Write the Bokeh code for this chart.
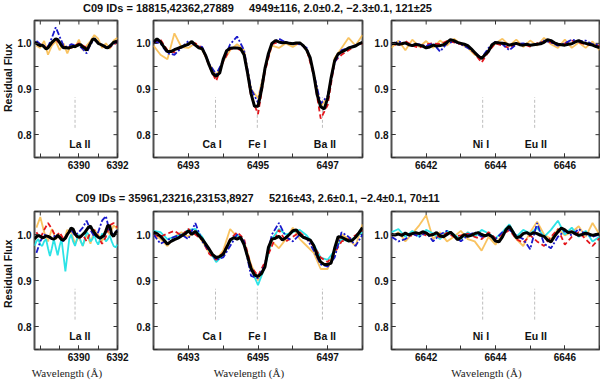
import numpy as np
from bokeh.plotting import figure
from bokeh.models import (Range1d, FixedTicker, PrintfTickFormatter, LinearAxis,
                          ColumnDataSource)
from bokeh.layouts import column, row
from bokeh.core.properties import value
from bokeh.embed import file_html
from bokeh.resources import INLINE

# ---------------- data ----------------
titles = ["C09 IDs = 18815,42362,27889 \u00a0\u00a0\u00a0\u00a04949\u00b1116, 2.0\u00b10.2, \u22122.3\u00b10.1, 121\u00b125",
          "C09 IDs = 35961,23216,23153,8927 \u00a0\u00a0\u00a0\u00a05216\u00b143, 2.6\u00b10.1, \u22122.4\u00b10.1, 70\u00b111"]
y_label = "Residual Flux"
x_label = "Wavelength (\u00c5)"

p1_range = (6387.7, 6392.0)
p2_range = (6492.0, 6498.0)
p3_range = (6641.0, 6647.0)
coarse_start = {1: 6387.8, 2: 6492.0, 3: 6641.0}

p1_major = [6390, 6392]
p1_minor = [6388, 6389, 6390, 6391, 6392]
p2_major = [6493, 6495, 6497]
p2_minor = [6492, 6493, 6494, 6495, 6496, 6497, 6498]
p3_major = [6642, 6644, 6646]
p3_minor = [6641, 6642, 6643, 6644, 6645, 6646, 6647]
y_major = [0.8, 0.9, 1.0]
y_minor = [0.75, 0.8, 0.85, 0.9, 0.95, 1.0, 1.05]

p1_lines = ["La II"]
p1_line_wave = [6389.8]
p1_label_wave = [6390.05]
p2_lines = ["Ca I", "Fe I", "Ba II"]
p2_line_wave = [6493.78, 6494.98, 6496.85]
p2_label_wave = [6493.68, 6494.98, 6496.92]
p3_lines = ["Ni I", "Eu II"]
p3_line_wave = [6643.63, 6645.13]
p3_label_wave = [6643.58, 6645.16]

# ---- top row (3 stars + mean) ----
top_p1_black = [1.002, 1.000, 0.997, 0.995, 0.996, 0.992, 0.988, 0.990, 0.996, 1.002,
                1.006, 1.010, 1.008, 1.002, 0.995, 0.990, 0.991, 0.990, 0.990, 0.992,
                0.993, 0.993, 0.995, 0.997, 0.997, 0.992, 0.990, 0.985, 0.992, 1.000,
                1.008, 1.010, 1.005, 1.000, 0.998, 0.996, 0.994, 0.991, 0.990, 0.994,
                0.998, 1.002, 1.004, 1.003]
top_p1_orange = [0.995, 0.990, 1.005, 0.975, 0.995, 1.005, 0.985, 1.000, 0.978, 0.998, 0.990,
                 1.008, 0.985, 0.995, 1.005, 1.018, 1.010, 0.990, 1.000, 0.988, 1.006, 1.012]
top_p1_red = [1.003, 0.998, 0.992, 0.990, 1.000, 1.008, 1.000, 0.992, 0.993, 0.990, 0.995,
              1.000, 0.995, 0.990, 1.000, 1.008, 1.002, 0.996, 0.990, 0.992, 0.995, 1.006]
top_p1_blue = [1.005, 0.998, 0.995, 0.993, 1.012, 1.035, 1.015, 0.995, 0.992, 0.998, 0.996,
               0.995, 0.988, 0.978, 0.998, 1.008, 1.002, 0.995, 0.993, 0.992, 1.000, 1.004]

top_p2_black = [1.002, 1.010, 1.003, 0.992, 0.982, 0.982, 0.986, 0.989, 0.992, 0.995,
                0.998, 1.004, 0.996, 0.990, 0.988, 0.973, 0.952, 0.934, 0.928, 0.935,
                0.965, 0.984, 0.989, 0.990, 0.990, 0.988, 0.975, 0.935, 0.890, 0.862,
                0.862, 0.898, 0.945, 0.978, 1.000, 1.006, 1.003, 1.001, 1.002, 1.000,
                0.999, 1.001, 1.001, 0.995, 0.985, 0.968, 0.932, 0.887, 0.861, 0.856,
                0.880, 0.925, 0.962, 0.977, 0.981, 0.985, 0.990, 0.992, 0.994, 0.999,
                1.002]
top_p2_orange = [0.995, 0.975, 0.965, 1.022, 0.992, 0.990, 1.000, 0.985, 0.955, 0.930,
                 0.960, 0.985, 0.998, 0.985, 0.900, 0.880, 0.945, 0.995, 0.990, 1.000,
                 0.992, 1.002, 0.985, 0.935, 0.862, 0.882, 0.968, 0.990, 1.012, 0.995,
                 1.018]
top_p2_red = [1.000, 1.008, 0.985, 0.980, 0.992, 0.998, 1.000, 0.990, 0.950, 0.918,
              0.960, 0.988, 0.990, 0.978, 0.885, 0.845, 0.938, 0.998, 1.003, 1.002,
              0.998, 1.000, 0.986, 0.930, 0.835, 0.865, 0.960, 0.975, 0.985, 0.995,
              1.000]
top_p2_blue = [1.005, 1.000, 0.978, 0.975, 0.990, 1.005, 0.995, 0.992, 0.955, 0.932,
               0.962, 0.998, 1.015, 0.985, 0.900, 0.870, 0.945, 1.000, 1.010, 1.002,
               1.000, 0.998, 0.990, 0.935, 0.868, 0.885, 0.958, 0.985, 0.990, 0.996,
               1.002]

top_p3_black = [0.999, 1.000, 0.998, 0.999, 1.001, 0.997, 0.995, 0.998, 0.996, 0.994,
                0.990, 0.992, 0.996, 0.994, 0.995, 0.997, 1.002, 1.008, 1.006, 1.002,
                1.000, 0.998, 0.995, 0.988, 0.980, 0.972, 0.967, 0.975, 0.983, 0.997,
                1.002, 1.001, 1.000, 0.999, 0.996, 0.998, 1.000, 0.997, 0.996, 0.998,
                0.996, 0.997, 0.998, 0.999, 1.002, 1.008, 1.006, 1.001, 0.998, 0.997,
                0.996, 0.998, 0.999, 1.003, 1.006, 1.002, 1.000, 0.998, 0.996, 0.993,
                0.991]
top_p3_orange = [0.990, 1.006, 0.985, 1.008, 0.992, 1.005, 0.990, 1.006, 0.995, 1.010,
                 0.998, 0.990, 0.975, 0.968, 0.985, 1.000, 1.010, 0.995, 1.008, 0.992,
                 1.006, 0.995, 1.012, 0.998, 0.990, 1.008, 0.990, 1.002, 0.990, 1.004,
                 0.985]
top_p3_red = [1.000, 0.995, 1.005, 0.995, 0.990, 0.998, 1.000, 0.998, 1.005, 1.002,
              0.998, 0.993, 0.978, 0.958, 0.982, 1.000, 0.995, 0.990, 1.000, 0.998,
              0.993, 1.000, 1.004, 1.002, 0.996, 1.000, 1.006, 1.002, 0.998, 0.996,
              0.995]
top_p3_blue = [0.998, 1.004, 1.000, 0.996, 0.998, 0.994, 1.000, 0.982, 1.000, 1.004,
               0.998, 0.990, 0.980, 0.968, 0.990, 1.004, 0.998, 0.985, 0.998, 1.000,
               0.996, 0.998, 1.006, 1.002, 0.995, 1.000, 1.008, 1.004, 1.006, 0.998,
               0.996]

# ---- bottom row (4 stars + mean) ----
bot_p1_black = [0.990, 0.995, 0.998, 0.996, 0.993, 0.994, 0.997, 0.996, 0.994, 0.991,
                0.990, 0.993, 0.998, 0.994, 0.989, 0.988, 0.992, 1.000, 1.006, 1.014,
                1.012, 1.002, 0.996, 0.994, 0.996, 1.000, 1.004, 1.010, 1.016, 1.018,
                1.010, 1.004, 0.998, 0.994, 0.992, 0.995, 0.998, 1.008, 1.020, 1.018,
                1.000, 0.996, 1.004, 1.008]
bot_p1_cyan = [0.975, 0.985, 0.990, 0.978, 0.975, 0.985, 0.990, 0.970, 0.953, 0.970,
               0.990, 0.972, 0.955, 0.975, 0.990, 0.955, 0.920, 0.955, 0.990, 1.000,
               0.985, 0.975, 0.990, 1.000, 0.985, 0.975, 0.990, 1.005, 1.000, 0.985,
               0.990, 1.000, 0.985, 0.978, 0.990, 1.002, 0.995, 0.985, 0.990, 0.998,
               0.985, 0.975, 0.972, 0.978]
bot_p1_orange = [1.015, 1.038, 1.005, 0.985, 1.012, 0.990, 1.000, 0.985, 1.010, 1.005, 0.980,
                 0.995, 0.975, 1.000, 0.980, 1.010, 1.000, 0.985, 1.012, 1.000, 1.020, 1.012]
bot_p1_red = [1.005, 0.992, 1.010, 1.025, 1.012, 0.995, 1.005, 0.990, 1.000, 1.012, 1.000,
              0.990, 1.000, 0.985, 1.005, 1.010, 0.995, 0.980, 0.995, 1.020, 1.025, 1.015]
bot_p1_blue = [0.960, 0.985, 1.000, 0.995, 0.990, 1.000, 0.995, 0.985, 1.002, 1.010, 0.998,
               1.005, 1.015, 1.030, 1.010, 0.995, 1.005, 1.030, 1.040, 1.005, 1.000, 1.010]

bot_p2_black = [1.005, 1.002, 0.996, 0.988, 0.979, 0.985, 0.989, 0.992, 0.997, 1.001,
                1.008, 1.000, 1.007, 0.998, 0.990, 0.979, 0.968, 0.956, 0.950, 0.952,
                0.957, 0.972, 0.988, 0.993, 0.990, 0.994, 0.978, 0.952, 0.926, 0.912,
                0.909, 0.915, 0.930, 0.972, 0.990, 0.992, 0.996, 0.988, 0.993, 1.000,
                1.008, 1.010, 1.000, 0.994, 0.991, 0.988, 0.976, 0.955, 0.940, 0.935,
                0.935, 0.938, 0.970, 0.995, 0.994, 0.990, 0.986, 0.987, 0.994, 1.004,
                1.015]
bot_p2_cyan = [1.008, 1.005, 0.990, 0.995, 1.000, 1.010, 1.012, 0.995, 0.965, 0.940,
               0.955, 0.985, 1.000, 0.980, 0.925, 0.890, 0.930, 0.990, 1.012, 1.000,
               1.005, 1.010, 0.998, 0.978, 0.950, 0.945, 0.965, 0.990, 0.985, 0.995,
               1.005]
bot_p2_orange = [1.000, 0.990, 0.975, 0.995, 1.005, 0.995, 1.008, 0.985, 0.960, 0.945,
                 0.965, 1.012, 0.995, 0.985, 0.935, 0.900, 0.935, 0.985, 0.970, 0.990,
                 1.015, 0.990, 0.975, 0.960, 0.925, 0.925, 0.968, 1.000, 0.990, 0.975,
                 1.022]
bot_p2_red = [1.000, 0.995, 1.002, 1.008, 0.998, 1.012, 1.000, 0.988, 0.958, 0.945,
              0.960, 0.990, 1.005, 0.990, 0.930, 0.910, 0.940, 0.975, 1.010, 0.985,
              0.995, 1.005, 0.990, 0.975, 0.950, 0.940, 0.960, 0.985, 0.990, 0.998,
              1.010]
bot_p2_blue = [1.000, 0.980, 0.988, 0.995, 1.000, 0.990, 1.025, 0.985, 0.965, 0.945,
               0.950, 0.975, 1.000, 0.985, 0.910, 0.905, 0.935, 1.000, 1.025, 0.995,
               0.985, 1.000, 0.992, 0.965, 0.935, 0.930, 0.950, 1.005, 0.995, 0.975,
               1.000]

bot_p3_black = [1.000, 0.999, 1.001, 0.998, 1.003, 0.999, 1.002, 1.004, 1.002, 1.006,
                1.003, 0.998, 1.000, 1.004, 0.997, 0.995, 1.000, 1.005, 0.998, 0.989,
                0.993, 1.000, 0.996, 0.998, 1.002, 1.004, 1.000, 0.997, 1.000, 0.995,
                0.986, 0.984, 0.995, 1.010, 1.018, 1.006, 0.993, 0.995, 1.002, 1.004,
                1.000, 1.004, 1.002, 0.998, 0.996, 0.988, 0.984, 0.996, 1.006, 1.014,
                1.010, 1.004, 1.006, 1.002, 0.998, 1.000, 1.003, 1.001, 0.998, 1.000,
                1.001]
bot_p3_cyan = [1.005, 1.012, 0.995, 1.008, 0.995, 1.010, 1.002, 0.990, 1.008, 1.000,
               0.990, 1.005, 0.995, 1.010, 1.002, 0.992, 1.005, 1.022, 0.995, 1.010,
               1.002, 1.015, 0.995, 1.010, 1.030, 1.000, 1.015, 0.995, 1.008, 0.985,
               0.995]
bot_p3_orange = [0.995, 1.005, 0.985, 1.002, 1.020, 1.042, 0.990, 1.005, 0.985, 0.995,
                 1.008, 0.990, 0.985, 0.965, 0.995, 0.978, 1.000, 1.015, 0.990, 0.975,
                 1.005, 1.028, 1.000, 0.990, 1.012, 0.998, 1.005, 1.018, 0.995, 1.025,
                 1.000]
bot_p3_red = [1.000, 0.998, 1.002, 0.996, 1.004, 0.998, 1.000, 0.994, 1.004, 0.995,
              0.998, 1.002, 0.995, 0.990, 1.005, 0.992, 1.000, 1.010, 0.990, 0.982,
              0.998, 0.985, 0.975, 0.995, 1.012, 0.978, 0.995, 1.005, 0.990, 0.975,
              0.992]
bot_p3_blue = [0.995, 0.985, 0.990, 1.002, 0.995, 1.005, 0.985, 1.000, 1.008, 0.998,
               0.985, 0.998, 1.005, 0.995, 1.000, 0.990, 1.005, 1.010, 0.998, 0.990,
               0.968, 1.025, 0.980, 0.970, 0.995, 1.008, 0.998, 1.012, 1.000, 0.995,
               1.000]

# ---------------- styles ----------------
STYLE = {
    "orange": dict(line_color="#F8B845", line_alpha=0.85, line_width=1.8),
    "cyan": dict(line_color="#2CE3E6", line_width=1.8),
    "red": dict(line_color="#E3161C", line_width=1.8, line_dash="5 3"),
    "blue": dict(line_color="#1A1ACC", line_width=1.8, line_dash="6 2 2 2"),
    "black": dict(line_color="#000000", line_width=3.0),
}
ORDER = ["orange", "cyan", "red", "blue", "black"]
SANS = "Liberation Sans"
SERIF = "Liberation Serif"
TICK_COL = "#333333"

# layout (pixels)
STRIP_W = 14
PANEL_W = [116, 238, 232]
BORDER_L = [20, 23, 23]
BORDER_R = [13, 6, 1]
TOTAL_W = STRIP_W + sum(PANEL_W)


def style_axis(ax):
    ax.axis_line_color = None
    ax.major_tick_in = 4
    ax.major_tick_out = 0
    ax.minor_tick_in = 4
    ax.minor_tick_out = 0
    ax.major_tick_line_color = TICK_COL
    ax.minor_tick_line_color = TICK_COL
    ax.major_label_text_font = SANS
    ax.major_label_text_font_style = "bold"
    ax.major_label_text_font_size = "10px"
    ax.major_label_text_color = "#111111"
    ax.major_label_standoff = 3


def panel(idx, xrng, xmaj, xmin, names, line_w, label_w, series, width, bl, br,
          height, bb):
    p = figure(width=width, height=height, x_range=Range1d(*xrng),
               y_range=Range1d(0.75, 1.05), output_backend="svg",
               toolbar_location=None, x_axis_type=None, y_axis_type=None,
               min_border_left=bl, min_border_right=br, min_border_top=1,
               min_border_bottom=bb)
    p.outline_line_color = "#505050"
    p.outline_line_width = 2
    p.background_fill_color = "white"
    p.border_fill_color = "white"

    xa = LinearAxis(ticker=FixedTicker(ticks=xmaj, minor_ticks=xmin))
    style_axis(xa)
    p.add_layout(xa, "below")
    ya = LinearAxis(ticker=FixedTicker(ticks=y_major, minor_ticks=y_minor),
                    formatter=PrintfTickFormatter(format="%.1f"))
    style_axis(ya)
    p.add_layout(ya, "left")

    # inward ticks on top and right edges
    p.ray(x=xmin, y=[1.05] * len(xmin), length=4, length_units="screen",
          angle=-90, angle_units="deg", line_color=TICK_COL, line_width=1)
    p.ray(x=[xrng[1]] * len(y_minor), y=y_minor, length=4, length_units="screen",
          angle=180, angle_units="deg", line_color=TICK_COL, line_width=1)

    # line identification markers
    p.segment(x0=line_w, y0=[0.815] * len(line_w), x1=line_w, y1=[0.882] * len(line_w),
              line_color="#BDBDBD", line_width=1, line_dash="3 2")
    src = ColumnDataSource(dict(x=label_w, y=[0.779] * len(label_w), t=names))
    p.text(x="x", y="y", text="t", source=src, text_font=value(SANS),
           text_font_style="bold", text_font_size="10.5px", text_align="center",
           text_baseline="middle", text_color="#111111")

    for key in ORDER:
        if key not in series:
            continue
        vals = series[key]
        if key == "black" or (idx == 1 and key == "cyan"):
            lo = xrng[0]
        else:
            lo = coarse_start[idx]
        xs = np.linspace(lo, xrng[1], len(vals))
        p.line(xs, vals, **STYLE[key])
    return p


def strip(width, height):
    s = figure(width=width, height=height, x_range=Range1d(0, width),
               y_range=Range1d(0, height), output_backend="svg",
               toolbar_location=None, x_axis_type=None, y_axis_type=None,
               min_border=0)
    s.outline_line_color = None
    return s


def title_fig(text, height, ty):
    t = strip(TOTAL_W, height)
    t.text(x=[257], y=[ty], text=[text], text_font=value(SANS), text_font_style="bold",
           text_font_size="11px", text_align="center", text_baseline="middle",
           text_color="#111111")
    return t


def ylabel_fig(height, frame_center):
    s = strip(STRIP_W, height)
    s.text(x=[7.5], y=[frame_center], text=[y_label], text_font=value(SANS),
           text_font_style="bold", text_font_size="10.5px", text_align="center",
           text_baseline="middle", angle=90, angle_units="deg", text_color="#111111")
    return s


def xlabel_fig(height, ty):
    s = strip(TOTAL_W, height)
    centers = []
    left = STRIP_W
    for w, bl, br in zip(PANEL_W, BORDER_L, BORDER_R):
        centers.append(left + bl + (w - bl - br) / 2 - 9)
        left += w
    s.text(x=centers, y=[ty] * 3, text=[x_label] * 3, text_font=value(SERIF),
           text_font_size="11px", text_align="center", text_baseline="middle",
           text_color="#222222")
    return s


def make_row(series_sets, height, bb):
    ranges = [p1_range, p2_range, p3_range]
    majs = [p1_major, p2_major, p3_major]
    mins = [p1_minor, p2_minor, p3_minor]
    names = [p1_lines, p2_lines, p3_lines]
    lws = [p1_line_wave, p2_line_wave, p3_line_wave]
    lbs = [p1_label_wave, p2_label_wave, p3_label_wave]
    figs = []
    for i in range(3):
        figs.append(panel(i + 1, ranges[i], majs[i], mins[i], names[i], lws[i], lbs[i],
                          series_sets[i], PANEL_W[i], BORDER_L[i], BORDER_R[i], height, bb))
    frame_center = bb + (height - 1 - bb) / 2
    return row(ylabel_fig(height, frame_center), *figs)


top_sets = [
    dict(orange=top_p1_orange, red=top_p1_red, blue=top_p1_blue, black=top_p1_black),
    dict(orange=top_p2_orange, red=top_p2_red, blue=top_p2_blue, black=top_p2_black),
    dict(orange=top_p3_orange, red=top_p3_red, blue=top_p3_blue, black=top_p3_black),
]
bot_sets = [
    dict(orange=bot_p1_orange, cyan=bot_p1_cyan, red=bot_p1_red, blue=bot_p1_blue, black=bot_p1_black),
    dict(orange=bot_p2_orange, cyan=bot_p2_cyan, red=bot_p2_red, blue=bot_p2_blue, black=bot_p2_black),
    dict(orange=bot_p3_orange, cyan=bot_p3_cyan, red=bot_p3_red, blue=bot_p3_blue, black=bot_p3_black),
]

layout = column(
    title_fig(titles[0], 19, 12),
    make_row(top_sets, 166, 28),
    title_fig(titles[1], 25, 12.5),
    make_row(bot_sets, 155, 16),
    xlabel_fig(15, 8),
)

open("out.html", "w").write(file_html(layout, INLINE))
